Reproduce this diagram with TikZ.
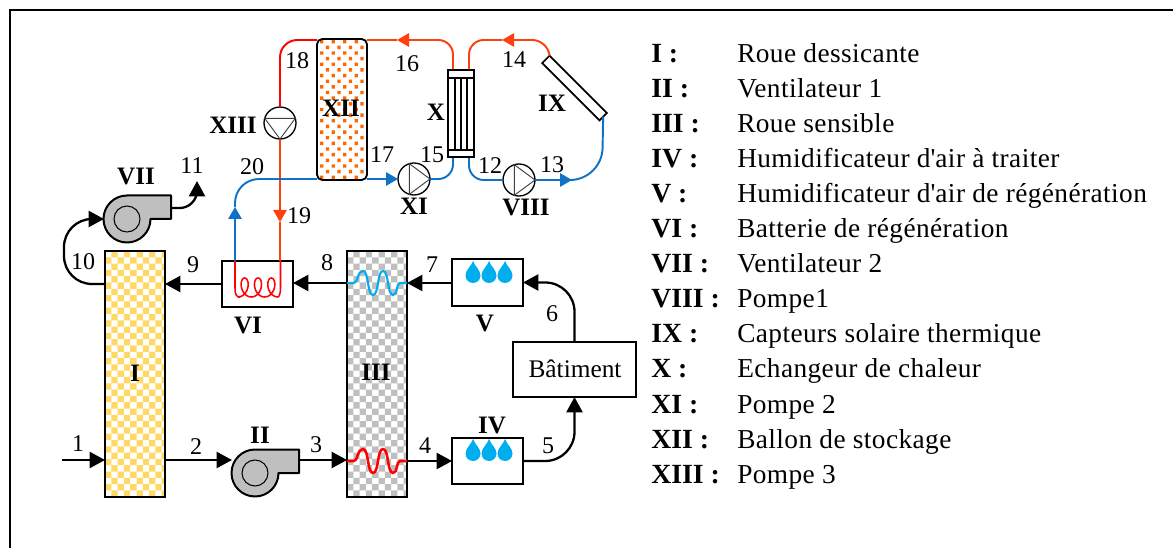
\documentclass[tikz,border=0pt]{standalone}
\usepackage{fontspec}
\setmainfont{Liberation Serif}
\newfontfamily\legfont[LetterSpace=1.5]{Liberation Serif}
\usetikzlibrary{arrows.meta,calc}
\definecolor{hotc}{HTML}{FF3F0F}
\definecolor{purered}{HTML}{FF0000}
\definecolor{coldc}{HTML}{0F72C4}
\definecolor{dropc}{HTML}{00AEEF}
\definecolor{yelc}{HTML}{FFD966}
\definecolor{grayc}{HTML}{BFBFBF}
\definecolor{orgc}{HTML}{FF6600}
\tikzset{
  sysbox/.style={draw=black,line width=1.7pt,rectangle,inner sep=0pt,outer sep=0pt},
  flow/.style={draw=black,line width=1.7pt,rounded corners=16pt},
  tipb/.style={-{Triangle[length=11.5pt,width=12pt]}},
  tipc/.style={-{Triangle[length=9pt,width=10pt]}},
  hotp/.style={draw=hotc,line width=1.45pt,rounded corners=11pt},
  redp/.style={draw=purered,line width=1.45pt,rounded corners=13pt},
  coldp/.style={draw=coldc,line width=1.45pt,rounded corners=11pt},
  num/.style={anchor=base,inner sep=0pt,font=\fontsize{18}{20}\selectfont},
  rom/.style={anchor=base,inner sep=0pt,font=\fontsize{18.8}{20}\selectfont\bfseries},
  legk/.style={anchor=base west,inner sep=0pt,font=\fontsize{20.8}{22}\selectfont\bfseries},
  legv/.style={anchor=base west,inner sep=0pt,font=\fontsize{20.5}{22}\selectfont\legfont},
  pumpn/.style={circle,draw=black,fill=white,line width=1pt,inner sep=0pt,outer sep=0pt,minimum size=#1},
  thinl/.style={draw=black!75,line width=.7pt},
}
\newcommand{\fanshape}[2]{%
  \fill[grayc,draw=black,line width=1.5pt,line join=round]
    (#1-23.5,#2) arc[start angle=180,end angle=270,radius=23.5] -- (#1+44,#2-23.5) -- (#1+44,#2) -- (#1+23.5,#2)
    arc[start angle=0,end angle=180,radius=23.5] -- cycle;
  \draw[line width=.8pt] (#1,#2) circle[radius=13];
}
\newcommand{\dropat}[2]{%
  \fill[dropc] (#1,#2) .. controls (#1+1.5,#2+5) and (#1+7.5,#2+9) .. (#1+7.5,#2+14.5)
    arc[start angle=0,end angle=180,radius=7.5] .. controls (#1-7.5,#2+9) and (#1-1.5,#2+5) .. (#1,#2) -- cycle;
}
\newcommand{\wavepath}[1]{%
  (347,#1) -- (354,#1) .. controls (358,#1) and (357,#1-12) .. (363,#1-12)
  .. controls (369,#1-12) and (367,#1+12) .. (373,#1+12)
  .. controls (379,#1+12) and (377,#1-12) .. (383,#1-12)
  .. controls (389,#1-12) and (387,#1+12) .. (393,#1+12)
  .. controls (398,#1+12) and (396,#1) .. (400,#1) -- (407,#1)
}
\begin{document}
\begin{tikzpicture}[x=0.75pt,y=-0.75pt]
\useasboundingbox (0,0) rectangle (1173,548);
\draw[line width=1.5pt] (1173,10) -- (10,10) -- (10,548);

% ---------- cold and hot water pipes (behind the tank)
\coordinate (Xtl) at (453,70);
\coordinate (Xtr) at (469,70);
\coordinate (Xbl) at (453,157);
\coordinate (Xbr) at (469,157);
\coordinate (a16) at (397,40);
\coordinate (a14) at (502,40);
\coordinate (a13) at (572,180);
\coordinate (a20) at (235,207);
\coordinate (a19) at (280,222);
\coordinate (topleft) at (280,40);

\node[pumpn=24pt] (XIII) at (280,123) {};
\node[pumpn=24pt] (XI) at (414,179) {};
\node[pumpn=24pt] (VIIIp) at (519,180) {};
\node[sysbox,fill=white,minimum width=53.25pt,minimum height=34.5pt] (VI) at (257.5,284) {};
\node[sysbox,fill=white,line width=1.3pt,minimum width=60.75pt,minimum height=7.8pt,rotate=-45] (IXb) at (574.5,88) {};

\draw[hotp,tipc] (Xtl) -- (453,40) -- (a16);
\draw[hotp] (a16) -- (367,40);
\draw[redp] (317,40) -- (topleft) -- (XIII.north);
\draw[hotp,tipc] (XIII.south) -- (a19);
\draw[hotp] (a19) -- (280,261);
\draw[hotp,tipc] (IXb.north west) -- (547,40) -- (a14);
\draw[hotp] (a14) -- (469,40) -- (Xtr);
\draw[coldp,tipc] (235,261) -- (a20);
\draw[coldp,rounded corners=18pt] (a20) -- (235,179) -- (317,179);
\draw[coldp,tipc] (367,179) -- (XI.west);
\draw[coldp] (XI.east) -- (453,179) -- (Xbl);
\draw[coldp] (Xbr) -- (469,180) -- (VIIIp.west);
\draw[coldp,tipc] (VIIIp.east) -- (a13);
\draw[coldp,rounded corners=24pt] (a13) -- (602,180) -- (IXb.east);

% ---------- pumps
\draw[thinl] (XIII.163) -- (XIII.17) -- (XIII.270) -- cycle;
\draw[thinl] (XI.107) -- (XI.0) -- (XI.-107) -- cycle;
\draw[thinl] (VIIIp.107) -- (VIIIp.0) -- (VIIIp.-107) -- cycle;

% ---------- coil in VI
\draw[purered,line width=1.15pt,line join=round] (235,261) -- (235,288) .. controls (235,294) and (236,297) .. (240,297)
  -- plot[domain=0:1080,samples=160] ({238+\x*0.0370+6.5*sin(\x)},{287.5+9.5*cos(\x)})
  .. controls (279,297) and (280.5,294) .. (280.5,288) -- (280.5,261);

% ---------- tank XII
\begin{scope}
  \path[clip,rounded corners=4pt] (317,39) rectangle (367,180);
  \fill[orgc]
    \foreach \i in {0,...,4} { \foreach \j in {0,...,25} {
      ({320+11.5*\i+mod(\j,2)*5.75},{40+5.65*\j}) rectangle ++(3.4,3.4) } };
\end{scope}
\node[draw=black,line width=1.4pt,rounded corners=4pt,inner sep=0pt,outer sep=0pt,minimum width=37.5pt,minimum height=105.75pt] (XII) at (342,109.5) {};

% ---------- exchanger X
\node[sysbox,fill=white,line width=1.2pt,minimum width=19.5pt,minimum height=65.25pt] (X) at (461,113.5) {};
\draw[line width=1pt] (448,78) -- (474,78) (448,150) -- (474,150) (455,78) -- (455,150) (461,78) -- (461,150) (467,78) -- (467,150);

% ---------- wheel I
\begin{scope}
  \path[clip] (105,251) rectangle (165,497);
  \fill[yelc]
    \foreach \i in {0,...,9} { \foreach \j in {0,...,39} {
      \ifodd\numexpr\i+\j\relax ({105+6.3*\i},{251+6.3*\j}) rectangle ++(6.3,6.3) \fi } };
\end{scope}
\node[sysbox,minimum width=45pt,minimum height=184.5pt] (I) at (135,374) {};

% ---------- wheel III
\begin{scope}
  \path[clip] (347,251) rectangle (407,497);
  \fill[grayc]
    \foreach \i in {0,...,9} { \foreach \j in {0,...,39} {
      \ifodd\numexpr\i+\j\relax ({347+6.3*\i},{251+6.3*\j}) rectangle ++(6.3,6.3) \fi } };
\end{scope}
\node[sysbox,minimum width=45pt,minimum height=184.5pt] (III) at (377,374) {};
\draw[purered,line width=1.9pt,line join=round] \wavepath{461};
\draw[dropc,line width=1.6pt,line join=round] \wavepath{283};

% ---------- humidifiers and building
\node[sysbox,fill=white,minimum width=53.25pt,minimum height=34.5pt] (IVb) at (487.5,461) {};
\node[sysbox,fill=white,minimum width=53.25pt,minimum height=35.25pt] (Vb) at (487.5,282.5) {};
\node[sysbox,fill=white,minimum width=92.25pt,minimum height=41.25pt] (Bat) at (574.5,369.5) {};
\foreach \x in {473,489,505} { \dropat{\x}{439} \dropat{\x}{261} }

% ---------- fans
\fanshape{255}{473}
\fanshape{127}{219}
\coordinate (fanIIin) at (232,460);
\coordinate (fanIIout) at (299,460);
\coordinate (fanVIIin) at (104,219);
\coordinate (fanVIIout) at (170,208);
\coordinate (in1) at (62,460);
\coordinate (out11) at (197,181);
\coordinate (y284) at (0,284);
\coordinate (y283) at (0,283);
\coordinate (y461) at (0,461);

% ---------- air flow
\draw[flow,tipb] (in1) -- (I.west |- in1);
\draw[flow,tipb] (I.east |- fanIIin) -- (fanIIin);
\draw[flow,tipb] (fanIIout) -- (III.west |- fanIIout);
\draw[flow,tipb] (III.east |- y461) -- (IVb.west);
\draw[flow,tipb,rounded corners=22pt] (IVb.east) -- (Bat.south |- IVb.east) -- (Bat.south);
\draw[flow,tipb,rounded corners=22pt] (Bat.north) -- (Bat.north |- Vb.east) -- (Vb.east);
\draw[flow,tipb] (Vb.west |- y283) -- (III.east |- y283);
\draw[flow,tipb] (III.west |- y283) -- (VI.east |- y283);
\draw[flow,tipb] (VI.west |- y284) -- (I.east |- y284);
\draw[flow,tipb,rounded corners=21pt] (I.west |- y284) -- (64,284) -- (64,219) -- (fanVIIin);
\draw[flow,tipb,rounded corners=13pt] (fanVIIout) -- (197,208) -- (out11);

% ---------- numbers
\node[num] at (78,451) {1};
\node[num] at (196,454) {2};
\node[num] at (316,452) {3};
\node[num] at (425,453) {4};
\node[num] at (548,453) {5};
\node[num] at (552,322) {6};
\node[num] at (432,273) {7};
\node[num] at (327,271) {8};
\node[num] at (193,273) {9};
\node[num] at (83,270) {10};
\node[num] at (192,174) {11};
\node[num] at (490,174) {12};
\node[num] at (552,173) {13};
\node[num] at (514,68) {14};
\node[num] at (432,163) {15};
\node[num] at (407,72) {16};
\node[num] at (382,163) {17};
\node[num] at (297,69) {18};
\node[num] at (299,224) {19};
\node[num] at (252,175) {20};

% ---------- roman labels
\node[rom] at (135,382) {I};
\node[rom] at (260,443) {II};
\node[rom] at (376,381) {III};
\node[rom] at (492,433) {IV};
\node[rom] at (485,332) {V};
\node[rom] at (248,334) {VI};
\node[rom] at (136,185) {VII};
\node[rom] at (526,216) {VIII};
\node[rom] at (552,112) {IX};
\node[rom] at (436,121) {X};
\node[rom] at (414,215) {XI};
\node[rom] at (341,117) {XII};
\node[rom] at (233,134) {XIII};
\node[anchor=base,inner sep=0pt,font=\fontsize{19}{20}\selectfont] at (575,378) {Bâtiment};

% ---------- legend
\foreach \yy/\k/\v in {
  63/I :/Roue dessicante,
  98/II :/Ventilateur 1,
  133/III :/Roue sensible,
  168/IV :/Humidificateur d\textquotesingle air à traiter,
  203/V :/Humidificateur d\textquotesingle air de régénération,
  238/VI :/Batterie de régénération,
  273/VII :/Ventilateur 2,
  308/VIII :/Pompe1,
  343/IX :/Capteurs solaire thermique,
  378/X :/Echangeur de chaleur,
  413/XI :/Pompe 2,
  448/XII :/Ballon de stockage,
  483/XIII :/Pompe 3}
{
  \node[legk] at (651,\yy) {\k};
  \node[legv] at (737,\yy) {\v};
}
\end{tikzpicture}
\end{document}
